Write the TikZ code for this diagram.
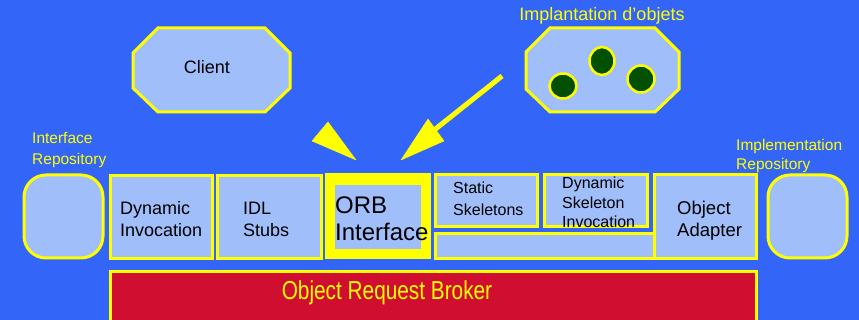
\documentclass[tikz,border=0pt]{standalone}
\usepackage{fontspec}
\usetikzlibrary{shapes.geometric}
\setmainfont{Liberation Sans}
\definecolor{bgblue}{RGB}{51,102,248}
\definecolor{paleblue}{RGB}{160,190,250}
\definecolor{orbred}{RGB}{208,14,48}
\definecolor{objgreen}{RGB}{0,80,0}
\definecolor{hiyellow}{RGB}{255,255,0}
\tikzset{
  box/.style={draw=hiyellow, line width=3pt, fill=paleblue, inner sep=0pt},
  repo/.style={box, rounded corners=22pt},
  octa/.style={draw=hiyellow, line width=3pt, fill=paleblue},
  obj/.style={draw=hiyellow, line width=2.5pt, fill=objgreen, ellipse, inner sep=0pt},
  lbl/.style={anchor=west, align=left, inner sep=0pt, text=black},
  ylbl/.style={lbl, text=hiyellow},
  pointer/.style={fill=hiyellow, draw=hiyellow, line join=round},
}
\newcommand{\fsz}[2]{\fontsize{#1}{#2}\selectfont}
\begin{document}
\begin{tikzpicture}[x=1pt, y=-1pt]
\useasboundingbox (0,0) rectangle (859,320);
\fill[bgblue] (0,0) rectangle (859,320);
\begin{scope}
\clip (0,0) rectangle (859,320);

% client and object implementation (chamfered boxes)
\draw[octa] (158,28) -- (265,28) -- (290,53) -- (290,88) -- (265,112)
  -- (158,112) -- (133,88) -- (133,53) -- cycle;
\node[lbl, anchor=center, font=\fsz{18}{22}] (client) at (207,67) {Client};

\draw[octa] (550,28) -- (655,28) -- (679,52) -- (679,89) -- (655,112)
  -- (550,112) -- (526,89) -- (526,52) -- cycle;
\node[ylbl, anchor=center, font=\fsz{18}{22}] (impl) at (602,16) {Implantation d'objets};
\node[obj, minimum width=27pt, minimum height=25pt] (o1) at (563,86) {};
\node[obj, minimum width=25pt, minimum height=28pt] (o2) at (602,61) {};
\node[obj, minimum width=27pt, minimum height=27pt] (o3) at (641,79) {};

% repositories
\node[ylbl, font=\fsz{15.5}{21}] (irlbl) at (32,150.5) {Interface\\Repository};
\node[ylbl, font=\fsz{15.5}{19}] (imlbl) at (736,156) {Implementation\\Repository};
\node[repo, minimum width=79pt, minimum height=83pt] (irepo) at (63.5,216.5) {};
\node[repo, minimum width=79pt, minimum height=83pt] (mrepo) at (807.5,216.5) {};

% client-side components
\node[box, minimum width=102pt, minimum height=83pt] (dii) at (161,217) {};
\node[lbl, font=\fsz{18}{22}] at (120,219) {Dynamic\\Invocation};
\node[box, minimum width=104pt, minimum height=83pt] (stubs) at (269,217) {};
\node[lbl, font=\fsz{18}{22}] at (243,219) {IDL\\Stubs};

% ORB interface
\node[fill=hiyellow, minimum width=106pt, minimum height=86pt, inner sep=0pt] (orbi) at (377.5,216.5) {};
\node[fill=paleblue, minimum width=86pt, minimum height=64pt, inner sep=0pt] (orbin) at (378,217) {};
\node[lbl, font=\fsz{24}{27}] at (335,219) {ORB\\Interface};

% server-side components
\node[box, minimum width=102pt, minimum height=52pt] (ssk) at (486,201) {};
\node[lbl, font=\fsz{16}{22}] at (453,198.5) {Static\\Skeletons};
\node[box, minimum width=103pt, minimum height=52pt] (dsi) at (595.5,201) {};
\node[lbl, font=\fsz{16}{19.5}] at (562,202.5) {Dynamic\\Skeleton\\Invocation};
\node[box, minimum width=219pt, minimum height=25pt] (skbar) at (544.5,246.5) {};
\node[box, minimum width=102pt, minimum height=84pt] (oa) at (705,217) {};
\node[lbl, font=\fsz{18.5}{22}] at (677,221) {Object\\Adapter};

% object request broker
\draw[draw=hiyellow, line width=3pt, fill=orbred] (110,272) rectangle (756,330);
\node[ylbl, anchor=center, font=\fsz{26}{30}] (orb) at (387,293) {\scalebox{0.8}[1]{Object Request Broker}};

% pointers towards the ORB interface
\coordinate (t1) at (356,160);
\coordinate (t2) at (401,160);
\coordinate (s2) at (502,76);
\fill[pointer] (t1) -- (312,141) -- (328,122) -- cycle;
\draw[hiyellow, line width=5pt] (s2) -- (433,131);
\fill[pointer] (t2) -- (428,119) -- (444,141) -- cycle;
\end{scope}
\end{tikzpicture}
\end{document}
